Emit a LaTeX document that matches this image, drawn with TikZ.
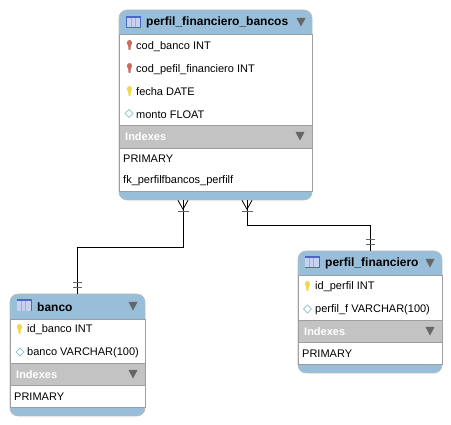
\documentclass[tikz,border=0pt]{standalone}
\usepackage{fontspec}
\setmainfont{Liberation Sans}
\usetikzlibrary{positioning, calc, shapes.geometric}
\definecolor{headblue}{HTML}{98BEDA}
\definecolor{indexgray}{HTML}{C3C3C3}
\definecolor{framegray}{HTML}{9A9FA3}
\definecolor{arrowgray}{HTML}{666666}
\definecolor{fkred}{HTML}{CC6A62}
\definecolor{pkyellow}{HTML}{F4D64A}
\definecolor{attrcyan}{HTML}{9CCBCE}
\definecolor{iconblue}{HTML}{4A68C4}
\tikzset{
  x=1pt, y=-1pt,
  tablebox/.style={
    rectangle, rounded corners=8pt, inner sep=0pt, fill=headblue, draw=framegray!70,
    line width=0.6pt, minimum width=#1
  },
  tabletitle/.style={anchor=west, inner sep=0pt, yshift=-0.8pt, font=\fontsize{12}{12}\selectfont\bfseries},
  rowtext/.style={anchor=west, inner sep=0pt, yshift=-0.8pt, font=\fontsize{11}{11}\selectfont},
  indextitle/.style={anchor=west, inner sep=0pt, yshift=-0.8pt, text=white, font=\fontsize{11}{11}\selectfont\bfseries},
  whitepart/.style={fill=white, draw=framegray, line width=0.5pt},
  graypart/.style={fill=indexgray, draw=framegray, line width=0.5pt},
  rel/.style={draw=black, line width=0.8pt},
  tickbar/.style={draw=black!60, line width=0.9pt}
}
% small icons, all placed by their centre
\newcommand{\tableicon}[1]{
  \fill[iconblue] ($(#1)+(-7.5,-6)$) rectangle ($(#1)+(7.5,6)$);
  \fill[iconblue!30!white] ($(#1)+(-6.7,-4)$) rectangle ($(#1)+(6.7,5.2)$);
  \foreach \dx in {-2.5,1.5} {\draw[iconblue!55!white, line width=0.4pt] ($(#1)+(\dx,-4)$) -- ++(0,9.2);}
}
\newcommand{\keyicon}[2]{
  \fill[#2] ($(#1)+(-1.4,0)$) -- ++(0.5,5) -- ++(1.8,0) -- ++(0.5,-5) -- cycle;
  \fill[#2] ($(#1)+(0,-2)$) circle[x radius=2.6, y radius=3];
}
\newcommand{\attricon}[1]{
  \draw[attrcyan, fill=white, line width=0.9pt] ($(#1)+(-4,0)$) -- ++(4,-4) -- ++(4,4) -- ++(-4,4) -- cycle;
}
\newcommand{\fold}[1]{
  \fill[arrowgray] ($(#1)+(-4.5,-4)$) -- ++(9,0) -- ++(-4.5,8.5) -- cycle;
}
\newcommand{\crowfoot}[1]{
  \draw[rel] ($(#1)+(-5,0)$) -- ($(#1)+(0,9)$) -- ($(#1)+(5,0)$);
  \draw[tickbar] ($(#1)+(-5.5,11)$) -- ++(11,0);
}
\newcommand{\onebars}[1]{
  \draw[tickbar] ($(#1)+(-4.5,-11)$) -- ++(9,0);
  \draw[tickbar] ($(#1)+(-4.5,-6)$) -- ++(9,0);
}
\begin{document}
\begin{tikzpicture}
  \useasboundingbox (0,0) rectangle (451,425);

  % Tables
  \node[tablebox=193pt, minimum height=190pt] (pfb) at (215.5,105) {};
  \node[tablebox=135pt, minimum height=122pt] (banco) at (77.5,355) {};
  \node[tablebox=144pt, minimum height=122pt] (perfil) at (370,312) {};

  % perfil_financiero_bancos
  \draw[whitepart] (119.5,34) rectangle (312,191);
  \draw[graypart] (119.5,125) rectangle (312,148);
  \tableicon{133.5,22}
  \node[tabletitle] (pfbtitle) at (146,22) {perfil\_financiero\_bancos};
  \fold{301,22}
  \keyicon{129.5,45}{fkred}
  \node[rowtext] (pfbcod) at (136,45.5) {cod\_banco INT};
  \keyicon{129.5,68}{fkred}
  \node[rowtext] (pfbpef) at (136,68.5) {cod\_pefil\_financiero INT};
  \keyicon{129.5,91}{pkyellow}
  \node[rowtext] (pfbfecha) at (136,91) {fecha DATE};
  \attricon{129,113.5}
  \node[rowtext] (pfbmonto) at (136,113.5) {monto FLOAT};
  \node[indextitle] (pfbidx) at (125,136) {Indexes};
  \fold{300,136}
  \node[rowtext] (pfbpri) at (123,158) {PRIMARY};
  \node[rowtext] (pfbfk) at (123,180) {fk\_perfilfbancos\_perfilf};

  % banco
  \draw[whitepart] (10.5,319) rectangle (145,407);
  \draw[graypart] (10.5,363) rectangle (145,385);
  \tableicon{24,305.5}
  \node[tabletitle] (bancotitle) at (37,306) {banco};
  \fold{133,306}
  \keyicon{19.5,329}{pkyellow}
  \node[rowtext] (bancoid) at (27,329) {id\_banco INT};
  \attricon{20,352}
  \node[rowtext] (bancodesc) at (27,352) {banco VARCHAR(100)};
  \node[indextitle] (bancoidx) at (16,374) {Indexes};
  \fold{133,374}
  \node[rowtext] (bancopri) at (14,396) {PRIMARY};

  % perfil_financiero
  \draw[whitepart] (298.5,275) rectangle (442,364);
  \draw[graypart] (298.5,320) rectangle (442,342);
  \tableicon{312,262}
  \node[tabletitle] (perfiltitle) at (325,263) {perfil\_financiero};
  \fold{430,263}
  \keyicon{307.5,286}{pkyellow}
  \node[rowtext] (perfilid) at (315,286) {id\_perfil INT};
  \attricon{307.5,309}
  \node[rowtext] (perfildesc) at (315,309) {perfil\_f VARCHAR(100)};
  \node[indextitle] (perfilidx) at (304,331) {Indexes};
  \fold{430,331}
  \node[rowtext] (perfilpri) at (302,353) {PRIMARY};

  % Connectors
  \coordinate (fkbanco) at ($(pfb.south)+(-32.5,0)$);
  \coordinate (fkperfil) at ($(pfb.south)+(31.5,0)$);
  \draw[rel] (fkbanco) -- ++(0,47) -| (banco.north);
  \draw[rel] (fkperfil) -- ++(0,25) -| (perfil.north);
  \crowfoot{fkbanco}
  \crowfoot{fkperfil}
  \onebars{banco.north}
  \onebars{perfil.north}
\end{tikzpicture}
\end{document}
